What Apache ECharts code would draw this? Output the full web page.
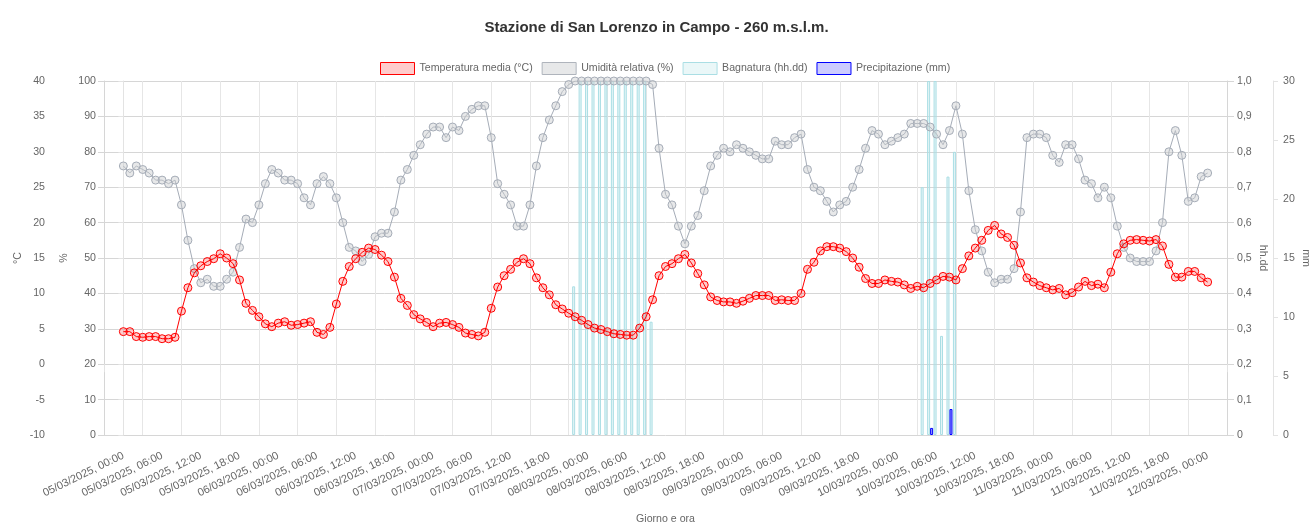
<!DOCTYPE html>
<html>
<head>
<meta charset="utf-8">
<title>Stazione di San Lorenzo in Campo</title>
<script src="https://cdn.jsdelivr.net/npm/echarts@6/dist/echarts.min.js"></script>
<style>
  html, body { margin: 0; padding: 0; background: #fff; }
  #main { width: 1313px; height: 525px; }
</style>
</head>
<body>
<div id="main"></div>
<script>
// etichette asse x (una ogni 6 ore)
var tickLabels = [
  "05/03/2025, 00:00", "05/03/2025, 06:00", "05/03/2025, 12:00", "05/03/2025, 18:00",
  "06/03/2025, 00:00", "06/03/2025, 06:00", "06/03/2025, 12:00", "06/03/2025, 18:00",
  "07/03/2025, 00:00", "07/03/2025, 06:00", "07/03/2025, 12:00", "07/03/2025, 18:00",
  "08/03/2025, 00:00", "08/03/2025, 06:00", "08/03/2025, 12:00", "08/03/2025, 18:00",
  "09/03/2025, 00:00", "09/03/2025, 06:00", "09/03/2025, 12:00", "09/03/2025, 18:00",
  "10/03/2025, 00:00", "10/03/2025, 06:00", "10/03/2025, 12:00", "10/03/2025, 18:00",
  "11/03/2025, 00:00", "11/03/2025, 06:00", "11/03/2025, 12:00", "11/03/2025, 18:00",
  "12/03/2025, 00:00"
];

// valori orari, dal 05/03 00:00 al 12/03 00:00
var temperatura = [
  4.6, 4.6, 3.9, 3.8, 3.9, 3.9, 3.6, 3.6, 3.8, 7.5, 10.8, 12.9, 13.9, 14.5, 14.9, 15.6, 15.0, 14.2, 11.9, 8.6,
  7.6, 6.7, 5.7, 5.3, 5.8, 6.0, 5.5, 5.6, 5.8, 6.0, 4.5, 4.2, 5.2, 8.5, 11.7, 13.8, 14.9, 15.8, 16.4, 16.2,
  15.4, 14.5, 12.3, 9.3, 8.3, 7.0, 6.4, 5.9, 5.3, 5.8, 5.9, 5.6, 5.2, 4.4, 4.2, 4.0, 4.5, 7.9, 10.9, 12.5,
  13.4, 14.4, 14.9, 14.2, 12.2, 10.8, 9.8, 8.4, 7.8, 7.2, 6.7, 6.2, 5.6, 5.1, 4.9, 4.6, 4.3, 4.2, 4.1, 4.1,
  5.1, 6.7, 9.1, 12.5, 13.8, 14.2, 14.9, 15.5, 14.3, 12.8, 11.2, 9.5, 9.0, 8.8, 8.8, 8.6, 8.9, 9.3, 9.7, 9.7,
  9.7, 9.0, 9.1, 9.0, 9.0, 10.0, 13.4, 14.4, 16.0, 16.6, 16.6, 16.4, 15.9, 15.0, 13.7, 12.1, 11.4, 11.4, 11.9, 11.7,
  11.6, 11.2, 10.7, 11.0, 10.8, 11.4, 11.9, 12.4, 12.3, 11.9, 13.5, 15.3, 16.4, 17.5, 18.9, 19.6, 18.4, 17.9, 16.8, 14.3,
  12.2, 11.6, 11.1, 10.8, 10.5, 10.7, 9.8, 10.1, 10.9, 11.7, 11.1, 11.3, 10.8, 13.0, 15.6, 17.0, 17.5, 17.6, 17.5, 17.4,
  17.6, 16.7, 14.1, 12.3, 12.3, 13.1, 13.1, 12.2, 11.6
];

var umidita = [
  76, 74, 76, 75, 74, 72, 72, 71, 72, 65, 55, 47, 43, 44, 42, 42, 44, 46, 53, 61,
  60, 65, 71, 75, 74, 72, 72, 71, 67, 65, 71, 73, 71, 67, 60, 53, 52, 49, 51, 56,
  57, 57, 63, 72, 75, 79, 82, 85, 87, 87, 84, 87, 86, 90, 92, 93, 93, 84, 71, 68,
  65, 59, 59, 65, 76, 84, 89, 93, 97, 99, 100, 100, 100, 100, 100, 100, 100, 100, 100, 100,
  100, 100, 99, 81, 68, 65, 59, 54, 59, 62, 69, 76, 79, 81, 80, 82, 81, 80, 79, 78,
  78, 83, 82, 82, 84, 85, 75, 70, 69, 66, 63, 65, 66, 70, 75, 81, 86, 85, 82, 83,
  84, 85, 88, 88, 88, 87, 85, 82, 86, 93, 85, 69, 58, 52, 46, 43, 44, 44, 47, 63,
  84, 85, 85, 84, 79, 77, 82, 82, 78, 72, 71, 67, 70, 67, 59, 53, 50, 49, 49, 49,
  52, 60, 80, 86, 79, 66, 67, 73, 74
];

// bagnatura (hh.dd) solo nelle ore in cui c'e' un valore
var bagnaturaOre = [70, 71, 72, 73, 74, 75, 76, 77, 78, 79, 80, 81, 82, 124, 125, 126, 127, 128, 129];
var bagnaturaValori = [0.42, 1, 1, 1, 1, 1, 1, 1, 1, 1, 1, 1, 0.32, 0.70, 1, 1, 0.28, 0.73, 0.80];

// precipitazione (mm)
var pioggiaOre = [125, 128];
var pioggiaValori = [0.6, 2.2];

var labelPos = [];
for (var k = 0; k < tickLabels.length; k++) labelPos.push(k * 6);

function coppie(xs, ys) {
  var out = [];
  for (var i = 0; i < ys.length; i++) out.push([xs ? xs[i] : i, ys[i]]);
  return out;
}

var grigio = "#666";
var fs = 10.6;
var font = "Liberation Sans, Arial, Helvetica, sans-serif";

var myChart = echarts.init(document.getElementById("main"));
var option = {
  animation: false,
  backgroundColor: "#fff",
  textStyle: { fontFamily: font },
  title: {
    text: "Stazione di San Lorenzo in Campo - 260 m.s.l.m.",
    left: "center",
    top: 15,
    textStyle: { fontSize: 15, fontWeight: "bold", color: "#333", fontFamily: font }
  },
  legend: {
    top: 57,
    left: 375,
    icon: "rect",
    itemWidth: 34,
    itemHeight: 12,
    itemGap: 9,
    textStyle: { fontSize: fs, color: grigio, fontFamily: font },
    data: [
      { name: "Temperatura media (°C)", itemStyle: { color: "rgba(255,0,0,0.2)", borderColor: "rgb(255,0,0)", borderWidth: 1 } },
      { name: "Umidità relativa (%)", itemStyle: { color: "rgba(201,203,207,0.45)", borderColor: "rgb(175,180,188)", borderWidth: 1 } },
      { name: "Bagnatura (hh.dd)", itemStyle: { color: "rgba(170,222,228,0.25)", borderColor: "rgb(170,222,228)", borderWidth: 1 } },
      { name: "Precipitazione (mm)", itemStyle: { color: "rgba(0,0,255,0.2)", borderColor: "rgb(0,0,255)", borderWidth: 1 } }
    ]
  },
  grid: {
    left: 104,
    right: 86,
    top: 81,
    bottom: 90,
    containLabel: false,
    outerBoundsMode: "none"
  },
  xAxis: {
    type: "value",
    min: -3,
    max: 171,
    interval: 6,
    name: "Giorno e ora",
    nameLocation: "middle",
    nameGap: 79,
    nameMoveOverlap: false,
    nameTextStyle: { fontSize: fs, color: grigio },
    axisLine: { show: true, lineStyle: { color: "#d6d6d6" } },
    axisTick: { show: true, length: 8, lineStyle: { color: "#e3e3e3" } },
    splitLine: { show: true, lineStyle: { color: "#e6e6e6" } },
    axisLabel: {
      customValues: labelPos,
      rotate: 26,
      margin: 20,
      fontSize: 11,
      color: grigio,
      formatter: function(v) {
        return tickLabels[Math.round(v / 6)];
      }
    }
  },
  yAxis: [
    {
      type: "value",
      position: "left",
      offset: 50,
      min: -10,
      max: 40,
      interval: 5,
      name: "°C",
      nameLocation: "middle",
      nameGap: 30,
      nameMoveOverlap: false,
      nameTextStyle: { fontSize: fs, color: grigio },
      axisLine: { show: true, lineStyle: { color: "#e3e3e3" } },
      axisTick: { show: true, length: 5, lineStyle: { color: "#e3e3e3" } },
      axisLabel: { margin: 9, fontSize: fs, color: grigio },
      splitLine: { show: false }
    },
    {
      type: "value",
      position: "left",
      offset: 0,
      min: 0,
      max: 100,
      interval: 10,
      name: "%",
      nameLocation: "middle",
      nameGap: 34,
      nameMoveOverlap: false,
      nameTextStyle: { fontSize: fs, color: grigio },
      axisLine: { show: true, lineStyle: { color: "#d6d6d6" } },
      axisTick: { show: true, length: 6, lineStyle: { color: "#d6d6d6" } },
      axisLabel: { margin: 8, fontSize: fs, color: grigio },
      splitLine: { show: true, lineStyle: { color: "#d6d6d6" } }
    },
    {
      type: "value",
      position: "right",
      offset: 0,
      min: 0,
      max: 1,
      interval: 0.1,
      name: "hh.dd",
      nameLocation: "middle",
      nameRotate: -90,
      nameGap: 30,
      nameMoveOverlap: false,
      nameTextStyle: { fontSize: fs, color: grigio },
      axisLine: { show: true, lineStyle: { color: "#d6d6d6" } },
      axisTick: { show: true, length: 7, lineStyle: { color: "#d6d6d6" } },
      axisLabel: {
        margin: 10,
        fontSize: fs,
        color: grigio,
        formatter: function(v) {
          return v === 0 ? "0" : v.toFixed(1).replace(".", ",");
        }
      },
      splitLine: { show: false }
    },
    {
      type: "value",
      position: "right",
      offset: 46,
      min: 0,
      max: 30,
      interval: 5,
      name: "mm",
      nameLocation: "middle",
      nameRotate: -90,
      nameGap: 27,
      nameMoveOverlap: false,
      nameTextStyle: { fontSize: fs, color: grigio },
      axisLine: { show: true, lineStyle: { color: "#e3e3e3" } },
      axisTick: { show: true, length: 5, lineStyle: { color: "#e3e3e3" } },
      axisLabel: { margin: 10, fontSize: fs, color: grigio },
      splitLine: { show: false }
    }
  ],
  series: [
    {
      name: "Bagnatura (hh.dd)",
      type: "bar",
      yAxisIndex: 2,
      barWidth: 3,
      barGap: "0%",
      z: 1,
      itemStyle: { color: "rgba(170,222,228,0.3)", borderColor: "rgb(170,222,228)", borderWidth: 1 },
      data: coppie(bagnaturaOre, bagnaturaValori)
    },
    {
      name: "Precipitazione (mm)",
      type: "bar",
      yAxisIndex: 3,
      barWidth: 3,
      barGap: "0%",
      z: 1,
      itemStyle: { color: "rgba(0,0,255,0.4)", borderColor: "rgb(0,0,255)", borderWidth: 1 },
      data: coppie(pioggiaOre, pioggiaValori)
    },
    {
      name: "Umidità relativa (%)",
      type: "line",
      yAxisIndex: 1,
      symbol: "circle",
      symbolSize: 8,
      showAllSymbol: true,
      z: 3,
      lineStyle: { width: 1, color: "rgb(165,172,183)" },
      itemStyle: { color: "rgba(201,203,207,0.45)", borderColor: "rgb(165,172,183)", borderWidth: 1 },
      data: coppie(null, umidita)
    },
    {
      name: "Temperatura media (°C)",
      type: "line",
      yAxisIndex: 0,
      symbol: "circle",
      symbolSize: 8,
      showAllSymbol: true,
      z: 4,
      lineStyle: { width: 1, color: "rgb(255,0,0)" },
      itemStyle: { color: "rgba(255,0,0,0.2)", borderColor: "rgb(255,0,0)", borderWidth: 1 },
      data: coppie(null, temperatura)
    }
  ]
};
myChart.setOption(option);
</script>
</body>
</html>
